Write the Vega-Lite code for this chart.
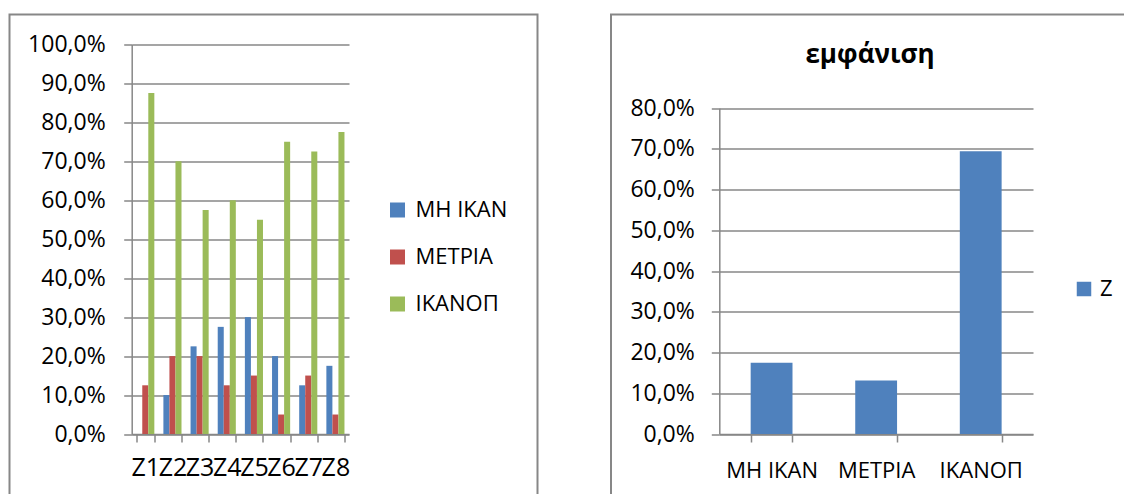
{
  "$schema": "https://vega.github.io/schema/vega-lite/v6.json",
  "padding": {"left": 8.5, "top": 13.5, "right": 0, "bottom": 0},
  "spacing": 73.5,
  "bounds": "flush",
  "config": {
    "font": "Open Sans",
    "view": {"stroke": "#878787", "strokeWidth": 2},
    "axis": {
      "domainColor": "#878787",
      "domainWidth": 1.5,
      "tickColor": "#878787",
      "tickWidth": 1.5,
      "tickSize": 8,
      "gridColor": "#878787",
      "gridWidth": 1.5,
      "labelColor": "#000000",
      "labelFont": "Open Sans",
      "labelFontSize": 23,
      "labelOverlap": false,
      "title": null
    },
    "legend": {
      "labelFont": "Open Sans",
      "labelFontSize": 22,
      "labelColor": "#000000"
    }
  },
  "datasets": {
    "zones": [
      {"zone": "Z1", "level": "ΜΗ ΙΚΑΝ", "pct": 0.0},
      {"zone": "Z1", "level": "ΜΕΤΡΙΑ", "pct": 0.125},
      {"zone": "Z1", "level": "ΙΚΑΝΟΠ", "pct": 0.875},
      {"zone": "Z2", "level": "ΜΗ ΙΚΑΝ", "pct": 0.10},
      {"zone": "Z2", "level": "ΜΕΤΡΙΑ", "pct": 0.20},
      {"zone": "Z2", "level": "ΙΚΑΝΟΠ", "pct": 0.70},
      {"zone": "Z3", "level": "ΜΗ ΙΚΑΝ", "pct": 0.225},
      {"zone": "Z3", "level": "ΜΕΤΡΙΑ", "pct": 0.20},
      {"zone": "Z3", "level": "ΙΚΑΝΟΠ", "pct": 0.575},
      {"zone": "Z4", "level": "ΜΗ ΙΚΑΝ", "pct": 0.275},
      {"zone": "Z4", "level": "ΜΕΤΡΙΑ", "pct": 0.125},
      {"zone": "Z4", "level": "ΙΚΑΝΟΠ", "pct": 0.60},
      {"zone": "Z5", "level": "ΜΗ ΙΚΑΝ", "pct": 0.30},
      {"zone": "Z5", "level": "ΜΕΤΡΙΑ", "pct": 0.15},
      {"zone": "Z5", "level": "ΙΚΑΝΟΠ", "pct": 0.55},
      {"zone": "Z6", "level": "ΜΗ ΙΚΑΝ", "pct": 0.20},
      {"zone": "Z6", "level": "ΜΕΤΡΙΑ", "pct": 0.05},
      {"zone": "Z6", "level": "ΙΚΑΝΟΠ", "pct": 0.75},
      {"zone": "Z7", "level": "ΜΗ ΙΚΑΝ", "pct": 0.125},
      {"zone": "Z7", "level": "ΜΕΤΡΙΑ", "pct": 0.15},
      {"zone": "Z7", "level": "ΙΚΑΝΟΠ", "pct": 0.725},
      {"zone": "Z8", "level": "ΜΗ ΙΚΑΝ", "pct": 0.175},
      {"zone": "Z8", "level": "ΜΕΤΡΙΑ", "pct": 0.05},
      {"zone": "Z8", "level": "ΙΚΑΝΟΠ", "pct": 0.775}
    ],
    "overall": [
      {"level": "ΜΗ ΙΚΑΝ", "series": "Z", "pct": 0.175},
      {"level": "ΜΕΤΡΙΑ", "series": "Z", "pct": 0.13125},
      {"level": "ΙΚΑΝΟΠ", "series": "Z", "pct": 0.69375}
    ]
  },
  "resolve": {"scale": {"color": "independent"}, "legend": {"color": "independent"}},
  "hconcat": [
    {
      "width": 528,
      "height": 500,
      "data": {"name": "zones"},
      "mark": {"type": "bar"},
      "encoding": {
        "x": {
          "field": "zone",
          "type": "nominal",
          "sort": null,
          "scale": {"range": [122.2, 339.5], "paddingInner": 0.3333, "paddingOuter": 0.1667},
          "axis": {"offset": -80.5, "tickBand": "extent", "labelAngle": 0, "labelPadding": 13, "labelFontSize": 25, "grid": false}
        },
        "xOffset": {
          "field": "level",
          "type": "nominal",
          "sort": ["ΜΗ ΙΚΑΝ", "ΜΕΤΡΙΑ", "ΙΚΑΝΟΠ"],
          "scale": {"paddingInner": 0, "paddingOuter": 0}
        },
        "y": {
          "field": "pct",
          "type": "quantitative",
          "scale": {"domain": [0, 1], "range": [419.5, 29.9], "nice": false},
          "axis": {
            "offset": -122.2,
            "values": [0, 0.1, 0.2, 0.3, 0.4, 0.5, 0.6, 0.7, 0.8, 0.9, 1.0],
            "labelExpr": "replace(format(datum.value, '.1%'), '.', ',')",
            "labelPadding": 18.5,
            "grid": true
          }
        },
        "color": {
          "field": "level",
          "type": "nominal",
          "sort": ["ΜΗ ΙΚΑΝ", "ΜΕΤΡΙΑ", "ΙΚΑΝΟΠ"],
          "scale": {"domain": ["ΜΗ ΙΚΑΝ", "ΜΕΤΡΙΑ", "ΙΚΑΝΟΠ"], "range": ["#4F81BD", "#C0504D", "#9BBB59"]},
          "legend": {
            "orient": "none",
            "legendX": 377,
            "legendY": 184.5,
            "title": null,
            "padding": 0,
            "symbolType": "square",
            "symbolSize": 225,
            "symbolStrokeWidth": 0,
            "labelOffset": 7,
            "rowPadding": 25,
            "labelLimit": 300
          }
        }
      }
    },
    {
      "width": 530,
      "height": 500,
      "data": {"name": "overall"},
      "title": {
        "text": "εμφάνιση",
        "font": "Open Sans",
        "fontSize": 26,
        "fontWeight": "bold",
        "color": "#000000",
        "frame": "group",
        "anchor": "middle",
        "baseline": "alphabetic",
        "offset": -74,
        "dx": -6
      },
      "mark": {"type": "bar"},
      "encoding": {
        "x": {
          "field": "level",
          "type": "nominal",
          "sort": null,
          "scale": {"range": [108.3, 422], "paddingInner": 0.6, "paddingOuter": 0.3},
          "axis": {"offset": -80.5, "tickBand": "extent", "labelAngle": 0, "labelPadding": 18, "labelFontSize": 22, "grid": false}
        },
        "y": {
          "field": "pct",
          "type": "quantitative",
          "scale": {"domain": [0, 0.8], "range": [419.5, 93.5], "nice": false},
          "axis": {
            "offset": -108.3,
            "values": [0, 0.1, 0.2, 0.3, 0.4, 0.5, 0.6, 0.7, 0.8],
            "labelExpr": "replace(format(datum.value, '.1%'), '.', ',')",
            "labelPadding": 17,
            "grid": true
          }
        },
        "color": {
          "field": "series",
          "type": "nominal",
          "scale": {"domain": ["Z"], "range": ["#4F81BD"]},
          "legend": {
            "orient": "none",
            "legendX": 462,
            "legendY": 263.5,
            "title": null,
            "padding": 0,
            "symbolType": "square",
            "symbolSize": 210,
            "symbolStrokeWidth": 0,
            "labelOffset": 5
          }
        }
      }
    }
  ]
}
